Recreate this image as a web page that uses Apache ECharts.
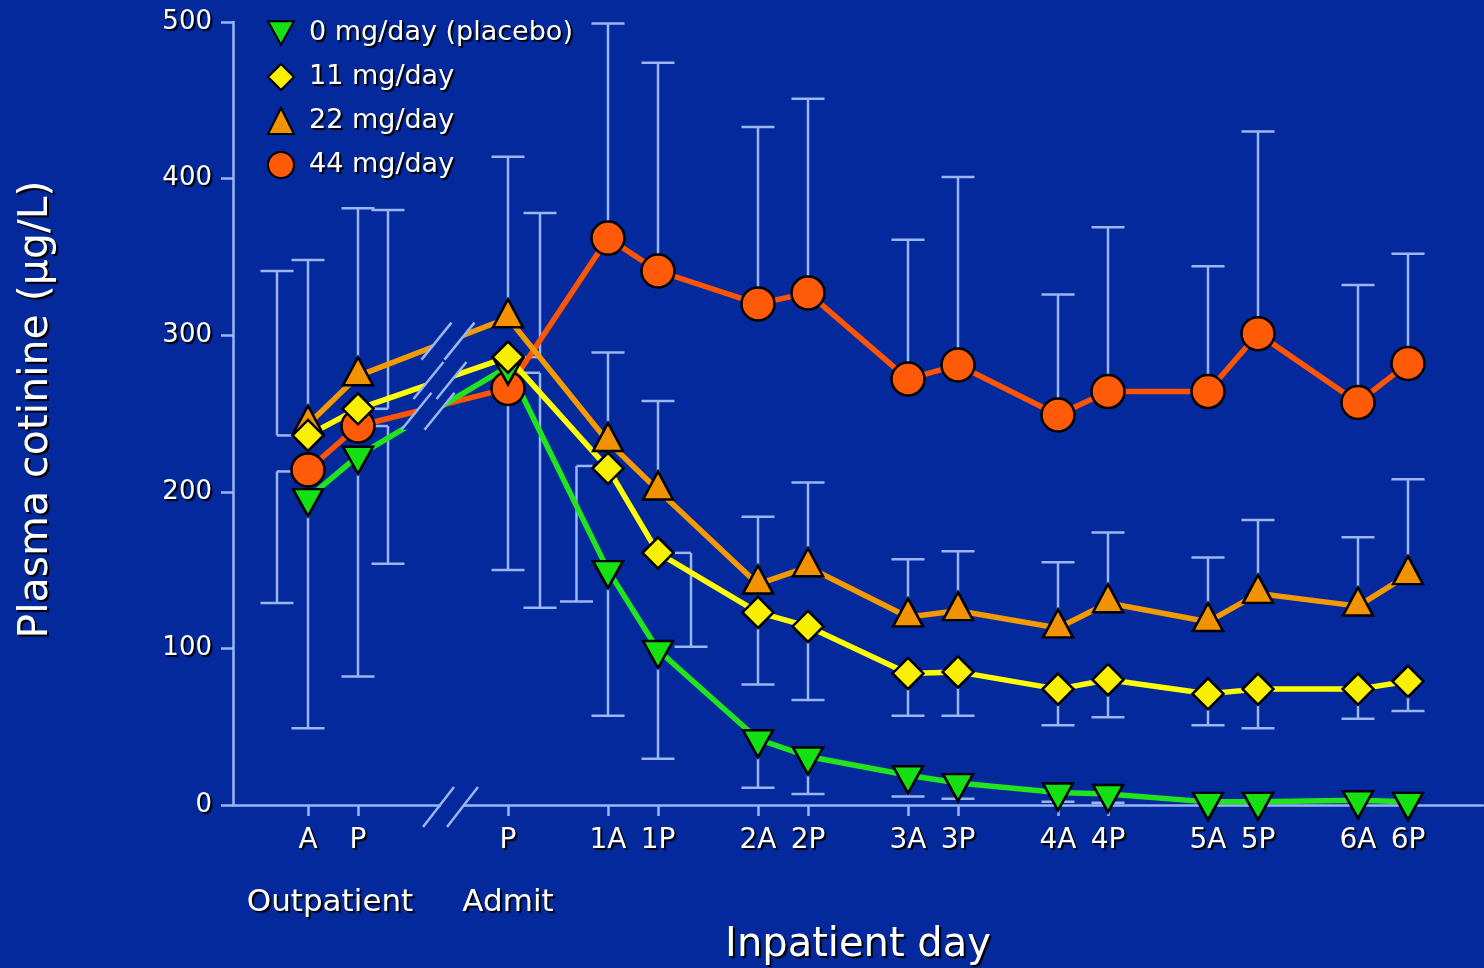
<!DOCTYPE html>
<html>
<head>
<meta charset="utf-8">
<title>Plasma cotinine</title>
<script src="https://cdn.jsdelivr.net/npm/echarts@6/dist/echarts.min.js"></script>
<style>
  html, body { margin: 0; padding: 0; background: #03299c; }
  #main { width: 1484px; height: 968px; }
</style>
</head>
<body>
<div id="main"></div>
<script>
// time points on the x axis (A/P half a day apart, break between outpatient and admit)
var xPos = [0, 1, 4, 6, 7, 9, 10, 12, 13, 15, 16, 18, 19, 21, 22];
var xLabels = ['A', 'P', 'P', '1A', '1P', '2A', '2P', '3A', '3P', '4A', '4P', '5A', '5P', '6A', '6P'];
var groupPos = [0.44, 4];
var groupLabels = ['Outpatient', 'Admit'];

var names = ['0 mg/day (placebo)', '11 mg/day', '22 mg/day', '44 mg/day'];

// mean plasma cotinine (ug/L)
var dose0  = [196, 223, 280, 150, 99, 42, 31, 19, 14, 8, 7, 2, 2, 3, 2];
var dose11 = [236, 253, 286, 215, 161, 123, 114, 84, 85, 74, 80, 71, 74, 74, 79];
var dose22 = [243, 274, 311, 232, 201, 141, 152, 120, 124, 113, 129, 117, 135, 127, 147];
var dose44 = [214, 242, 266, 362, 341, 320, 327, 272, 281, 249, 264, 264, 301, 257, 282];

// SD bars: [x, from, to]  (some are drawn beside the point to avoid overlap)
var err0 = [[0, 196, 49], [1, 223, 82], [4.64, 276, 126], [6, 150, 57], [7, 99, 29.5],
            [9, 42, 11], [10, 31, 7], [12, 19, 5.5], [13, 14, 4], [15, 8, 2], [16, 7, 1.5]];
var err11 = [[-0.62, 236, 341], [1.6, 253, 380], [4.64, 286, 378], [5.37, 216.5, 130], [7.66, 161, 101],
             [9, 123, 77], [10, 114, 67], [12, 84, 57], [13, 85, 57], [15, 74, 51], [16, 80, 56],
             [18, 71, 51], [19, 74, 49], [21, 74, 55], [22, 79, 60]];
var err22 = [[0, 243, 348], [1, 274, 381], [4, 311, 414], [6, 232, 289], [7, 201, 258],
             [9, 141, 184], [10, 152, 206], [12, 120, 157], [13, 124, 162], [15, 113, 155],
             [16, 129, 174], [18, 117, 158], [19, 135, 182], [21, 127, 171], [22, 147, 208]];
var err44 = [[-0.62, 213, 129], [1.6, 242, 154], [4, 266, 150], [6, 362, 499], [7, 341, 474],
             [9, 320, 433], [10, 327, 451], [12, 272, 361], [13, 281, 401], [15, 249, 326],
             [16, 264, 369], [18, 264, 344], [19, 301, 430], [21, 257, 332], [22, 282, 352]];

var BG = '#03299c';
var BAR = '#9ab6f2';
var DOWN = 'path://M0,0L20,0L10,18Z';

function txt(size, extra) {
    var s = {
        color: '#fff', fontFamily: 'DejaVu Sans', fontSize: size,
        textShadowColor: '#000', textShadowOffsetX: 2, textShadowOffsetY: 2, textShadowBlur: 1
    };
    for (var k in extra) s[k] = extra[k];
    return s;
}

function pts(vals) {
    return vals.map(function (v, i) { return [xPos[i], v]; });
}

function nearestPoint(x) {
    return xPos.reduce(function (a, b) { return Math.abs(b - x) < Math.abs(a - x) ? b : a; });
}

/* error bar: stem + cap at the far end, half cap back toward the point when offset */
function renderErr(params, api) {
    var x = api.value(0);
    var p1 = api.coord([x, api.value(1)]);
    var p2 = api.coord([x, api.value(2)]);
    var st = { stroke: BAR, lineWidth: 2.5 };
    var kids = [
        { type: 'line', shape: { x1: p1[0], y1: p1[1], x2: p2[0], y2: p2[1] }, style: st },
        { type: 'line', shape: { x1: p2[0] - 16.5, y1: p2[1], x2: p2[0] + 16.5, y2: p2[1] }, style: st }
    ];
    var near = nearestPoint(x);
    if (Math.abs(near - x) > 0.1) {
        var dir = near > x ? 1 : -1;
        kids.push({ type: 'line', shape: { x1: p1[0], y1: p1[1], x2: p1[0] + dir * 16, y2: p1[1] }, style: st });
    }
    return { type: 'group', children: kids };
}

function lineSeries(name, vals, lineColor, fill, symbol, size, offset) {
    return {
        type: 'line', name: name, data: pts(vals), z: 3,
        symbol: symbol, symbolSize: size, symbolOffset: offset,
        lineStyle: { color: lineColor, width: 5.5 },
        itemStyle: { color: fill, borderColor: '#000', borderWidth: 2.5 },
        emphasis: { disabled: true }
    };
}

var mainDiv = document.getElementById('main');
var chart = echarts.init(mainDiv);

var option = {
    backgroundColor: BG,
    animation: false,
    grid: { left: 233, right: 1, top: 22, bottom: 163, outerBoundsMode: 'none' },
    legend: {
        orient: 'vertical', left: 262, top: 14,
        itemWidth: 26, itemHeight: 26, itemGap: 16,
        textStyle: txt(27, { lineHeight: 28, padding: [0, 0, 0, 10] }),
        selectedMode: false,
        data: [
            { name: names[0], icon: DOWN },
            { name: names[1], icon: 'diamond' },
            { name: names[2], icon: 'triangle' },
            { name: names[3], icon: 'circle' }
        ]
    },
    xAxis: [{
        type: 'value', min: -1.5, max: 23.5,
        name: 'Inpatient day', nameLocation: 'middle', nameGap: 121,
        nameTextStyle: txt(40),
        axisLine: { onZero: false, lineStyle: { color: BAR, width: 2.5 } },
        axisTick: { customValues: xPos, length: 11, lineStyle: { color: BAR, width: 2.5 } },
        axisLabel: txt(28, {
            customValues: xPos, margin: 22,
            formatter: function (v) { return xLabels[xPos.indexOf(v)]; }
        }),
        splitLine: { show: false }
    }, {
        type: 'value', min: -1.5, max: 23.5, position: 'bottom',
        axisLine: { show: false, onZero: false }, axisTick: { show: false },
        axisLabel: txt(31, {
            customValues: groupPos, margin: 82,
            formatter: function (v) { return groupLabels[groupPos.indexOf(v)]; }
        }),
        splitLine: { show: false }
    }],
    yAxis: {
        type: 'value', min: 0, max: 500, interval: 100,
        name: 'Plasma cotinine (µg/L)', nameLocation: 'middle', nameGap: 176,
        nameTextStyle: txt(41, { padding: [0, 0, 0, 8] }),
        axisLine: { show: true, onZero: false, lineStyle: { color: BAR, width: 2.5 } },
        axisTick: { show: true, length: 12, lineStyle: { color: BAR, width: 2.5 } },
        axisLabel: txt(26, { margin: 21 }),
        splitLine: { show: false }
    },
    series: [
        {
            type: 'custom', name: 'sd', z: 1, silent: true,
            renderItem: renderErr,
            encode: { x: 0, y: [1, 2] },
            data: err0.concat(err11, err22, err44)
        },
        lineSeries(names[3], dose44, '#ff5400', '#ff5a08', 'circle', 33, [0, 0]),
        lineSeries(names[0], dose0, '#22e41c', '#14e014', DOWN, [30, 27], [0, 4.5]),
        lineSeries(names[2], dose22, '#f39a00', '#f39200', 'triangle', [30, 28], [0, -4.7]),
        lineSeries(names[1], dose11, '#ffff00', '#f8f000', 'diamond', [31, 31], [0, 0])
    ]
};

chart.setOption(option);

/* axis break and line breaks between outpatient and admit */
function px(x, y) { return chart.convertToPixel({ gridIndex: 0 }, [x, y]); }
function lerpAt(vals, x) {
    var t = (x - xPos[1]) / (xPos[2] - xPos[1]);
    return vals[1] + t * (vals[2] - vals[1]);
}
var slashStyle = { stroke: BAR, lineWidth: 2.5 };
var gfx = [];

var a = px(2.88, 0);
gfx.push({ type: 'rect', shape: { x: a[0] - 11, y: a[1] - 4, width: 22, height: 8 }, style: { fill: BG }, z: 100 });
[-12, 12].forEach(function (d) {
    var sx = a[0] + d;
    gfx.push({ type: 'line', shape: { x1: sx - 17, y1: a[1] + 22, x2: sx + 14, y2: a[1] - 18 }, style: slashStyle, z: 101 });
});

var breaks = [
    [2.80, lerpAt(dose22, 2.80)],
    [2.64, lerpAt(dose11, 2.64)],
    [2.40, (lerpAt(dose0, 2.40) + lerpAt(dose44, 2.40)) / 2]
];
breaks.forEach(function (b) {
    var c = px(b[0], b[1]);
    var cx = c[0], cy = c[1];
    gfx.push({
        type: 'polygon', z: 100, style: { fill: BG },
        shape: { points: [[cx - 26.5, cy + 18.5], [cx + 3.5, cy - 18.5], [cx + 26.5, cy - 18.5], [cx - 3.5, cy + 18.5]] }
    });
    [-11.5, 11.5].forEach(function (d) {
        var sx = cx + d;
        gfx.push({ type: 'line', shape: { x1: sx - 15, y1: cy + 18.5, x2: sx + 15, y2: cy - 18.5 }, style: slashStyle, z: 101 });
    });
});

chart.setOption({ graphic: gfx });
</script>
</body>
</html>
